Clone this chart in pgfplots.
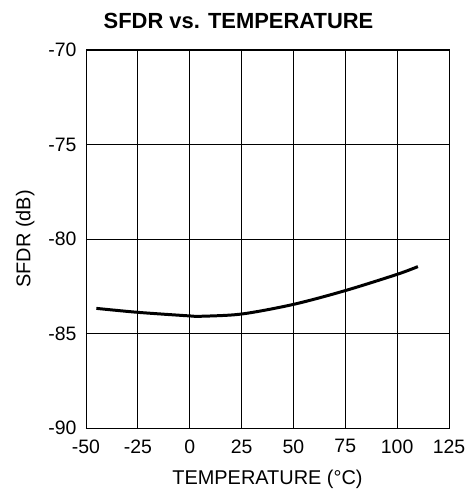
\documentclass[border=0pt]{standalone}
\usepackage{pgfplots}
\pgfplotsset{compat=1.18}
\usepackage{fontspec}
\setmainfont{Liberation Sans}
\begin{document}
\begin{tikzpicture}
\useasboundingbox (-86bp,-67bp) rectangle (385bp,428bp);
\begin{axis}[
  scale only axis,
  width=363bp, height=378bp,
  xmin=-50, xmax=125, ymin=-90, ymax=-70,
  xtick={-50,-25,...,125},
  ytick={-90,-85,...,-70},
  grid=major,
  major grid style={black, line width=0.8pt},
  axis line style={black, line width=1pt},
  major tick length=0pt,
  /pgf/number format/assume math mode=true,
  ticklabel style={font=\fontsize{19.5}{21}\selectfont},
  xticklabel style={yshift=-8bp},
  yticklabel style={xshift=-6bp},
  label style={font=\fontsize{20}{22}\selectfont},
  xlabel={TEMPERATURE (°C)},
  ylabel={SFDR (dB)},
  xlabel style={yshift=-10bp},
  ylabel style={yshift=7bp},
  title={SFDR vs. TEMPERATURE},
  title style={font=\fontsize{22}{24}\bfseries, yshift=12bp, xshift=-29bp},
]
\addplot[smooth, black, line width=3pt] coordinates {
  (-45,-83.67) (-25,-83.88) (0,-84.07) (5,-84.09) (25,-83.97)
  (50,-83.46) (75,-82.73) (100,-81.87) (110,-81.46)
};
\end{axis}
\end{tikzpicture}
\end{document}
